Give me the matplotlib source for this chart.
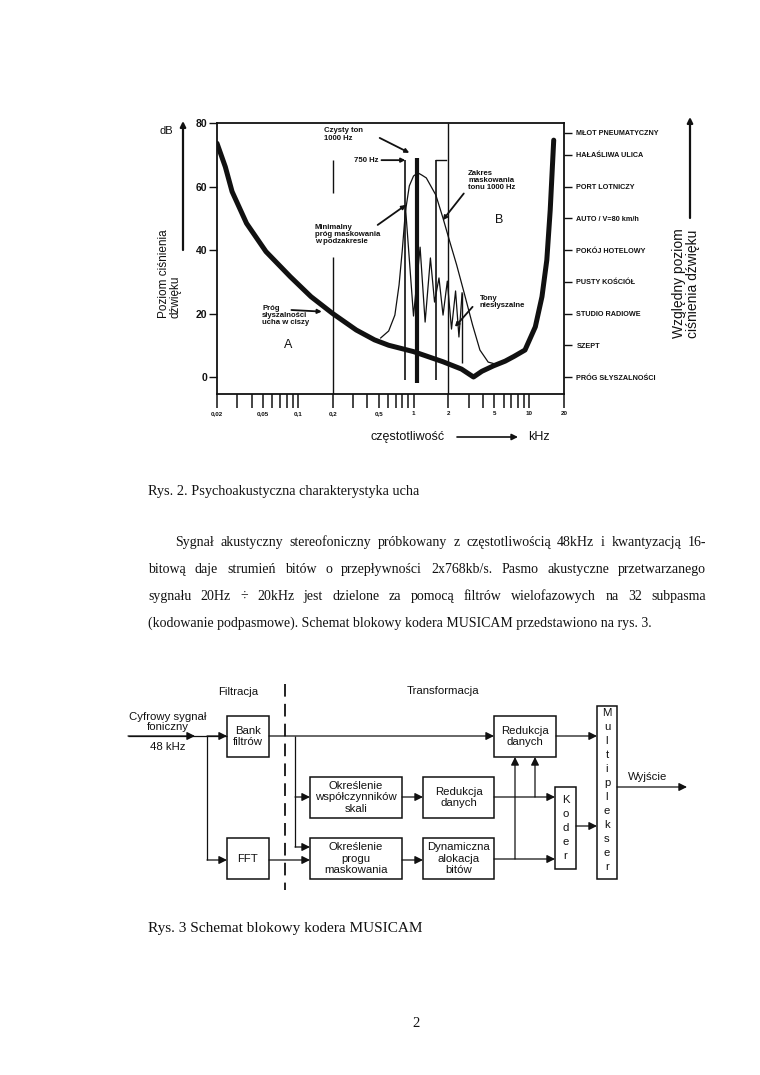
import matplotlib
matplotlib.use('Agg')
import matplotlib.pyplot as plt
from matplotlib.patches import Rectangle
from matplotlib.ticker import NullFormatter

# --- chart data ---
thr_khz = [0.02, 0.0236, 0.027, 0.036, 0.053, 0.086, 0.13, 0.2, 0.32, 0.46, 0.61,
           1.0, 1.8, 2.6, 3.3, 3.9, 4.9, 6.2, 7.4, 9.2, 11.3, 12.9, 14.2, 15.2, 16.3]
thr_db = [73.6, 66.2, 58.4, 48.4, 39.5, 31.6, 25.3, 20.0, 14.8, 11.7, 10.0,
          8.0, 4.8, 2.5, 0.0, 1.8, 3.5, 5.0, 6.5, 8.5, 15.8, 25.3, 36.8, 52.6, 74.6]

mask_khz = [0.52, 0.61, 0.69, 0.75, 0.80, 0.85, 0.92, 1.0, 1.09, 1.18, 1.29,
            1.56, 1.80, 2.04, 2.36, 2.74, 3.24, 3.75, 4.42, 5.46]
mask_db = [12.3, 14.5, 19.5, 29, 40, 52, 60.2, 63.3, 64.3, 63.6, 62.7,
           57.3, 50, 43.1, 35.3, 26.5, 16.4, 8.5, 4.7, 3.8]

zig_khz = [0.85, 1.0, 1.14, 1.26, 1.40, 1.52, 1.66, 1.80, 1.96, 2.13, 2.31, 2.47, 2.63]
zig_db = [54, 19.2, 40.9, 17.3, 37.5, 23.6, 31.2, 19.5, 30.2, 15.1, 27.1, 12.6, 26.5]

tone_khz = 1.07
tone_db = (-1.9, 69.0)
band_khz = [0.85, 1.56]
band_db = (-0.9, 68.3)
last_tone_khz = 2.63
last_tone_db = (4.4, 26.5)
grid_khz = [0.2, 2.0]
grid02_db = [(58.0, 68.3), (None, 37.8)]

xtick_khz = [0.02, 0.05, 0.1, 0.2, 0.5, 1, 2, 5, 10, 20]
xtick_labels = ['0,02', '0,05', '0,1', '0,2', '0,5', '1', '2', '5', '10', '20']
xminor_khz = [0.03, 0.04, 0.06, 0.07, 0.08, 0.09, 0.3, 0.4, 0.6, 0.7, 0.8, 0.9,
              3, 4, 6, 7, 8, 9]
ytick_db = [0, 20, 40, 60, 80]
noise_db = [77, 70, 60, 50, 40, 30, 20, 10, 0]
noise_labels = ['MŁOT PNEUMATYCZNY', 'HAŁAŚLIWA ULICA', 'PORT LOTNICZY',
                'AUTO / V=80 km/h', 'POKÓJ HOTELOWY', 'PUSTY KOŚCIÓŁ',
                'STUDIO RADIOWE', 'SZEPT', 'PRÓG SŁYSZALNOŚCI']

SANS = 'Liberation Sans'
SERIF = 'Liberation Serif'
INK = '#111111'

W, H = 760, 1075
fig = plt.figure(figsize=(W / 100, H / 100), dpi=100)

# page overlay in pixel coordinates
page = fig.add_axes([0, 0, 1, 1])
page.set_xlim(0, W)
page.set_ylim(H, 0)
page.axis('off')

# --- chart ---
L, R, T, B = 217, 564, 123, 394
ax = fig.add_axes([L / W, 1 - B / H, (R - L) / W, (B - T) / H])
ax.set_xscale('log')
ax.set_xlim(0.02, 20)
ax.set_ylim(-5.35, 80)
ymin = ax.get_ylim()[0]
for s in ax.spines.values():
    s.set_linewidth(1.3)
    s.set_color(INK)

ax.set_xticks(xtick_khz)
ax.set_xticklabels(xtick_labels, fontsize=4.5, fontweight='bold', family=SANS)
ax.set_xticks(xminor_khz, minor=True)
ax.xaxis.set_minor_formatter(NullFormatter())
ax.tick_params(axis='x', which='both', direction='out', length=10, width=1.1,
               pad=2, colors=INK)
ax.set_yticks(ytick_db)
ax.set_yticklabels([str(v) for v in ytick_db], fontsize=7.5, fontweight='bold',
                   family=SANS)
ax.tick_params(axis='y', direction='out', length=6, width=1, pad=1, colors=INK)

ax2 = ax.twinx()
ax2.set_ylim(ax.get_ylim())
ax2.set_yticks(noise_db)
ax2.set_yticklabels(noise_labels, fontsize=5.2, fontweight='bold', family=SANS)
ax2.tick_params(axis='y', direction='out', length=6, width=1, pad=3, colors=INK)
for s in ax2.spines.values():
    s.set_visible(False)

# grid-like verticals
ax.vlines(grid_khz[1], ymin, 80, color=INK, lw=1.0)
for lo, hi in grid02_db:
    ax.vlines(grid_khz[0], ymin if lo is None else lo, hi, color=INK, lw=1.0)

# curves
ax.plot(thr_khz, thr_db, color=INK, lw=3.6, solid_capstyle='round',
        solid_joinstyle='round', zorder=4)
ax.plot(mask_khz, mask_db, color=INK, lw=0.9, zorder=3)
ax.plot(zig_khz, zig_db, color=INK, lw=0.9, zorder=3)
ax.vlines(band_khz, band_db[0], band_db[1], color=INK, lw=1.2)
ax.vlines(tone_khz, tone_db[0], tone_db[1], color=INK, lw=3.0, zorder=5)
ax.vlines(last_tone_khz, last_tone_db[0], last_tone_db[1], color=INK, lw=1.0)
ax.plot([band_khz[1], 1.9], [band_db[1], band_db[1]], color=INK, lw=1.0)

small = dict(fontsize=5.6, fontweight='bold', family=SANS, color=INK)
arr = dict(arrowstyle='-|>', color=INK, lw=1.3, mutation_scale=6,
           shrinkA=0, shrinkB=0)

ax.text(0.169, 78.7, 'Czysty ton\n1000 Hz', ha='left', va='top', **small)
ax.annotate('', xy=(0.92, 70.6), xytext=(0.51, 75.3), arrowprops=arr)
ax.annotate('750 Hz', xy=(0.85, band_db[1]), xytext=(0.50, band_db[1]),
            ha='right', va='center', arrowprops=arr, **small)
ax.text(0.14, 48.2, 'Minimalny\npróg maskowania\nw podzakresie', ha='left',
        va='top', linespacing=1.05, **small)
ax.annotate('', xy=(0.86, 54.2), xytext=(0.49, 47.9), arrowprops=arr)
ax.text(2.97, 65.2, 'Zakres\nmaskowania\ntonu 1000 Hz', ha='left', va='top',
        linespacing=1.05, **small)
ax.text(5.46, 49.4, 'B', ha='center', va='center', fontsize=9, family=SANS,
        color=INK)
ax.annotate('', xy=(1.79, 49.4), xytext=(2.72, 57.8), arrowprops=arr)
ax.text(3.72, 25.8, 'Tony\nniesłyszalne', ha='left', va='top',
        linespacing=1.05, **small)
ax.annotate('', xy=(2.28, 15.8), xytext=(3.24, 22.1), arrowprops=arr)
ax.text(0.049, 22.7, 'Próg\nsłyszalności\nucha w ciszy', ha='left', va='top',
        linespacing=1.05, **small)
ax.annotate('', xy=(0.161, 20.6), xytext=(0.088, 21.1), arrowprops=arr)
ax.text(0.083, 10, 'A', ha='center', va='center', fontsize=9, family=SANS,
        color=INK)

# labels around the chart (pixel coords)
lab = dict(family=SANS, color=INK)
pa = dict(arrowstyle='-|>', color=INK, lw=1.6, mutation_scale=8,
          shrinkA=0, shrinkB=0)
page.text(166, 131, 'dB', ha='center', va='center', fontsize=8, **lab)
page.annotate('', xy=(183, 121), xytext=(183, 250), arrowprops=pa)
page.text(170, 318, 'Poziom ciśnienia\ndźwięku', rotation=90, ha='center',
          va='bottom', multialignment='left', fontsize=8.5, linespacing=1.0, **lab)
page.annotate('', xy=(690, 117), xytext=(690, 218), arrowprops=pa)
page.text(686, 338, 'Względny poziom\nciśnienia dźwięku', rotation=90,
          ha='center', va='bottom', multialignment='left', fontsize=10,
          linespacing=0.95, **lab)
page.text(408, 437, 'częstotliwość', ha='center', va='center', fontsize=9, **lab)
page.annotate('', xy=(518, 437), xytext=(457, 437),
              arrowprops=dict(arrowstyle='-|>', color=INK, lw=1.2,
                              mutation_scale=9, shrinkA=0, shrinkB=0))
page.text(528, 437, 'kHz', ha='left', va='center', fontsize=9, **lab)

# --- page text ---
renderer = fig.canvas.get_renderer()


def put_line(text, x0, x1, y, justify, size=10.0):
    serif = dict(family=SERIF, fontsize=size, color=INK, va='baseline')
    if not justify:
        page.text(x0, y, text, ha='left', **serif)
        return
    words = text.split(' ')
    ts = [page.text(0, y, w, ha='left', **serif) for w in words]
    widths = [t.get_window_extent(renderer=renderer).width for t in ts]
    gap = (x1 - x0 - sum(widths)) / (len(words) - 1)
    x = x0
    for t, w in zip(ts, widths):
        t.set_x(x)
        x += w + gap


put_line('Rys. 2. Psychoakustyczna charakterystyka ucha', 148, 0, 495, False,
         size=10.3)
body = [
    ('Sygnał akustyczny stereofoniczny próbkowany z częstotliwością 48kHz i kwantyzacją 16-', 175, True),
    ('bitową daje strumień bitów o przepływności 2x768kb/s. Pasmo akustyczne przetwarzanego', 148, True),
    ('sygnału 20Hz ÷ 20kHz jest dzielone za pomocą filtrów wielofazowych na 32 subpasma', 148, True),
    ('(kodowanie podpasmowe). Schemat blokowy kodera MUSICAM przedstawiono na rys. 3.', 148, False),
]
for i, (txt, x0, just) in enumerate(body):
    put_line(txt, x0, 706, 546 + 27 * i, just)
put_line('Rys. 3 Schemat blokowy kodera MUSICAM', 148, 0, 932, False, size=11)
page.text(416, 1027, '2', ha='center', va='baseline', family=SERIF,
          fontsize=10.5, color=INK)

# --- block diagram (pixel coords) ---
dfont = dict(family=SANS, fontsize=8.2, color=INK)
lw = 0.9


def box(x0, y0, x1, y1, label=None):
    page.add_patch(Rectangle((x0, y0), x1 - x0, y1 - y0, fill=False,
                             ec=INK, lw=1.1))
    if label:
        page.text((x0 + x1) / 2, (y0 + y1) / 2, label, ha='center',
                  va='center', linespacing=1.15, **dfont)


def line(xs, ys):
    page.plot(xs, ys, color=INK, lw=lw, solid_capstyle='butt')


def arrow(x0, y0, x1, y1):
    page.annotate('', xy=(x1, y1), xytext=(x0, y0),
                  arrowprops=dict(arrowstyle='-|>', color=INK, lw=lw,
                                  mutation_scale=12, shrinkA=0, shrinkB=0))


page.text(238, 692, 'Filtracja', ha='center', va='center', **dfont)
page.text(443, 691, 'Transformacja', ha='center', va='center', **dfont)
page.plot([284.5, 284.5], [684, 890], color=INK, lw=1.3, ls=(0, (7, 4)))

page.text(168, 722, 'Cyfrowy sygnał\nfoniczny', ha='center', va='center',
          linespacing=1.1, **dfont)
page.text(168, 747, '48 kHz', ha='center', va='center', **dfont)

box(227, 716, 269, 757, 'Bank\nfiltrów')
box(227, 838, 269, 879, 'FFT')
box(310, 777, 402, 818, 'Określenie\nwspółczynników\nskali')
box(310, 838, 402, 879, 'Określenie\nprogu\nmaskowania')
box(423, 777, 494, 818, 'Redukcja\ndanych')
box(423, 838, 494, 879, 'Dynamiczna\nalokacja\nbitów')
box(494, 716, 556, 757, 'Redukcja\ndanych')
box(555, 787, 576, 869)
box(597, 706, 617, 879)
for i, ch in enumerate('Koder'):
    page.text(565.5, 800 + 14 * i, ch, ha='center', va='center', **dfont)
for i, ch in enumerate('Multiplekser'):
    page.text(607, 713 + 14 * i, ch, ha='center', va='center', **dfont)

# input and filter bank paths
line([128, 227], [736, 736])
arrow(128, 736, 195, 736)
arrow(207, 736, 227, 736)
line([207, 207], [736, 860])
arrow(207, 860, 227, 860)
arrow(269, 736, 494, 736)
line([295, 295], [736, 847])
arrow(295, 797, 310, 797)
arrow(295, 847, 310, 847)
arrow(269, 860, 310, 860)
arrow(402, 797, 423, 797)
arrow(402, 860, 423, 860)
arrow(494, 797, 555, 797)
arrow(494, 859, 555, 859)
arrow(535, 797, 535, 757)
arrow(515, 859, 515, 757)
arrow(556, 736, 597, 736)
arrow(576, 826, 597, 826)
arrow(617, 787, 687, 787)
page.text(628, 777, 'Wyjście', ha='left', va='center', **dfont)

fig.savefig('out.png', dpi=100, facecolor='white')
